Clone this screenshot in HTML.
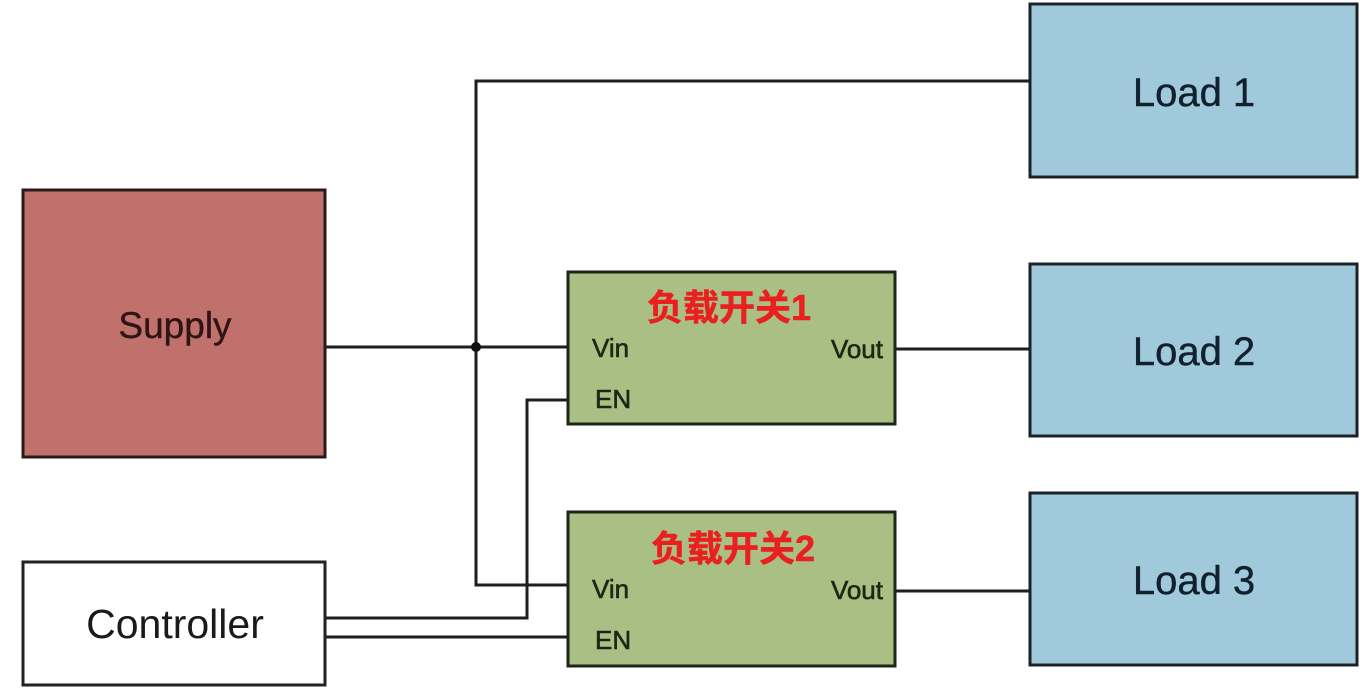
<!DOCTYPE html>
<html>
<head>
<meta charset="utf-8">
<style>
  html,body{margin:0;padding:0;background:#fff;}
  body{width:1369px;height:690px;overflow:hidden;}
  svg{display:block;}
  .lbl{font-family:"Liberation Sans","Noto Sans CJK SC",sans-serif;}
  .pin{font-family:"Liberation Sans",sans-serif;font-size:26px;fill:#1c2714;stroke:#1c2714;stroke-width:0.6px;}
</style>
</head>
<body>
<svg width="1369" height="690" viewBox="0 0 1369 690" xmlns="http://www.w3.org/2000/svg">
  <rect x="0" y="0" width="1369" height="690" fill="#ffffff"/>

  <!-- connectors -->
  <g stroke="#1e1e1e" stroke-width="3" fill="none" stroke-linejoin="miter">
    <line x1="326" y1="347" x2="568" y2="347"/>
    <polyline points="1029,81 476,81 476,585 568,585"/>
    <polyline points="568,400 527,400 527,618 326,618"/>
    <line x1="326" y1="637" x2="568" y2="637"/>
    <line x1="895" y1="349" x2="1030" y2="349"/>
    <line x1="895" y1="591" x2="1030" y2="591"/>
  </g>
  <circle cx="476" cy="347" r="5" fill="#111"/>

  <!-- Supply -->
  <rect x="23" y="190" width="302" height="267" fill="#c1716c" stroke="#2a1a1a" stroke-width="3"/>
  <text class="lbl" x="175" y="338" font-size="37" text-anchor="middle" fill="#2e1414" stroke="#2e1414" stroke-width="0.4">Supply</text>

  <!-- Controller -->
  <rect x="23" y="562" width="302" height="123" fill="#ffffff" stroke="#222" stroke-width="3"/>
  <text class="lbl" x="175" y="638" font-size="41" text-anchor="middle" fill="#1a1a1a">Controller</text>

  <!-- Loads -->
  <rect x="1030" y="4" width="327" height="173" fill="#a0c9db" stroke="#1b2328" stroke-width="3"/>
  <text class="lbl" x="1194" y="106" font-size="40" text-anchor="middle" fill="#10202c" stroke="#10202c" stroke-width="0.4">Load 1</text>

  <rect x="1030" y="264" width="327" height="172" fill="#a0c9db" stroke="#1b2328" stroke-width="3"/>
  <text class="lbl" x="1194" y="365" font-size="40" text-anchor="middle" fill="#10202c" stroke="#10202c" stroke-width="0.4">Load 2</text>

  <rect x="1030" y="493" width="327" height="172" fill="#a0c9db" stroke="#1b2328" stroke-width="3"/>
  <text class="lbl" x="1194" y="594" font-size="40" text-anchor="middle" fill="#10202c" stroke="#10202c" stroke-width="0.4">Load 3</text>

  <!-- Switch 1 -->
  <rect x="568" y="272" width="327" height="152" fill="#aabf83" stroke="#1f2618" stroke-width="3"/>
  <text class="lbl" x="729" y="320" font-size="36" font-weight="bold" text-anchor="middle" fill="#ea2020" stroke="#ea2020" stroke-width="0.5">负载开关1</text>
  <text class="pin" x="592" y="357">Vin</text>
  <text class="pin" x="883" y="358" text-anchor="end">Vout</text>
  <text class="pin" x="595" y="408">EN</text>

  <!-- Switch 2 -->
  <rect x="568" y="512" width="327" height="154" fill="#aabf83" stroke="#1f2618" stroke-width="3"/>
  <text class="lbl" x="733" y="561" font-size="36" font-weight="bold" text-anchor="middle" fill="#ea2020" stroke="#ea2020" stroke-width="0.5">负载开关2</text>
  <text class="pin" x="592" y="598">Vin</text>
  <text class="pin" x="883" y="599" text-anchor="end">Vout</text>
  <text class="pin" x="595" y="649">EN</text>
</svg>
</body>
</html>
